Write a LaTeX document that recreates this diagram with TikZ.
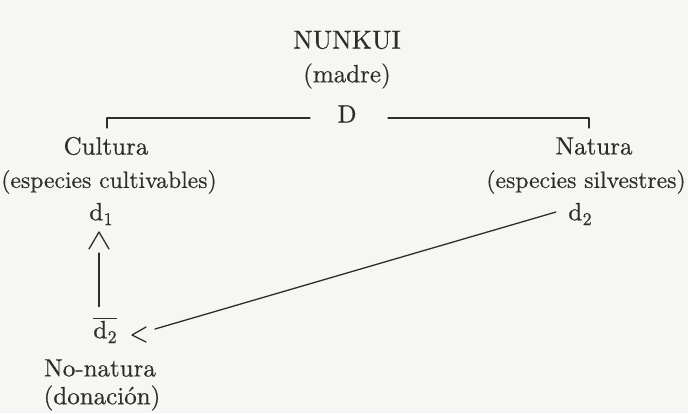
\documentclass[tikz,border=0pt]{standalone}
\usepackage{fontspec}
\setmainfont{lmroman10-regular.otf}[FakeBold=0.45]
\usetikzlibrary{calc}
\definecolor{ink}{RGB}{45,45,42}
\definecolor{paper}{RGB}{246,247,245}
% lowered index after a letter
\newcommand{\idx}[1]{\kern0.2pt\raisebox{-0.45ex}{\fontsize{9}{9}\selectfont #1}}
\begin{document}
\begin{tikzpicture}[x=0.5pt,y=-0.5pt,
  lbl/.style={inner sep=0pt, text=ink, font=\fontsize{12.5}{15}\selectfont},
  sub/.style={lbl, font=\fontsize{11.8}{15}\selectfont},
  ln/.style={line width=0.65pt, draw=ink, line cap=round, line join=round}]
\fill[paper] (0,0) rectangle (688,413);
\useasboundingbox (0,0) rectangle (688,413);

% top of the tree
\node[lbl, font=\fontsize{13}{15}\selectfont] (nunkui) at (347,40) {NUNKUI};
\node[lbl] (madre)  at (347,76) {(madre)};
\node[lbl] (D)      at (347,114) {D};

% the two branches
\node[lbl] (cultura) at (106,146) {Cultura};
\node[sub] (cultiv)  at (109,182) {(especies cultivables)};
\node[lbl] (d1)      at (101,214) {d\idx{1}};

\node[lbl] (natura)  at (594,146) {Natura};
\node[sub] (silv)    at (586,182) {(especies silvestres)};
\node[lbl] (d2)      at (580,214) {d\idx{2}};

% negated term
\node[lbl] (nd2)     at (105,330) {$\overline{\mbox{d\idx{2}}}$};
\node[lbl] (nonat)   at (100,368) {No-natura};
\node[lbl] (donac)   at (102,398) {(donación)};

% bracket under D
\coordinate (Dl) at (310,118);
\coordinate (Dr) at (388,118);
\coordinate (tl) at (107,118);
\coordinate (tr) at (589,118);
\draw[ln] (Dl) -- (tl) -- ++(0,10);
\draw[ln] (Dr) -- (tr) -- ++(0,10);

% arrow from the negated term up to d1 (open chevron head)
\coordinate (upTip) at (99,232);
\draw[ln] (nd2.north -| upTip) ++(0,-10) coordinate (upFoot) -- ($(upTip)+(0,21)$);
\draw[ln] ($(upTip)+(-10,17)$) -- (upTip) -- ($(upTip)+(10,17)$);

% arrow from d2 down to the negated term (open chevron head)
\coordinate (ltTip) at (132,335);
\draw[ln] ($(d2.west)+(-12,-2)$) -- ($(ltTip)+(23,-6)$);
\draw[ln] ($(ltTip)+(14,-8)$) -- (ltTip) -- ($(ltTip)+(14,7)$);
\end{tikzpicture}
\end{document}
